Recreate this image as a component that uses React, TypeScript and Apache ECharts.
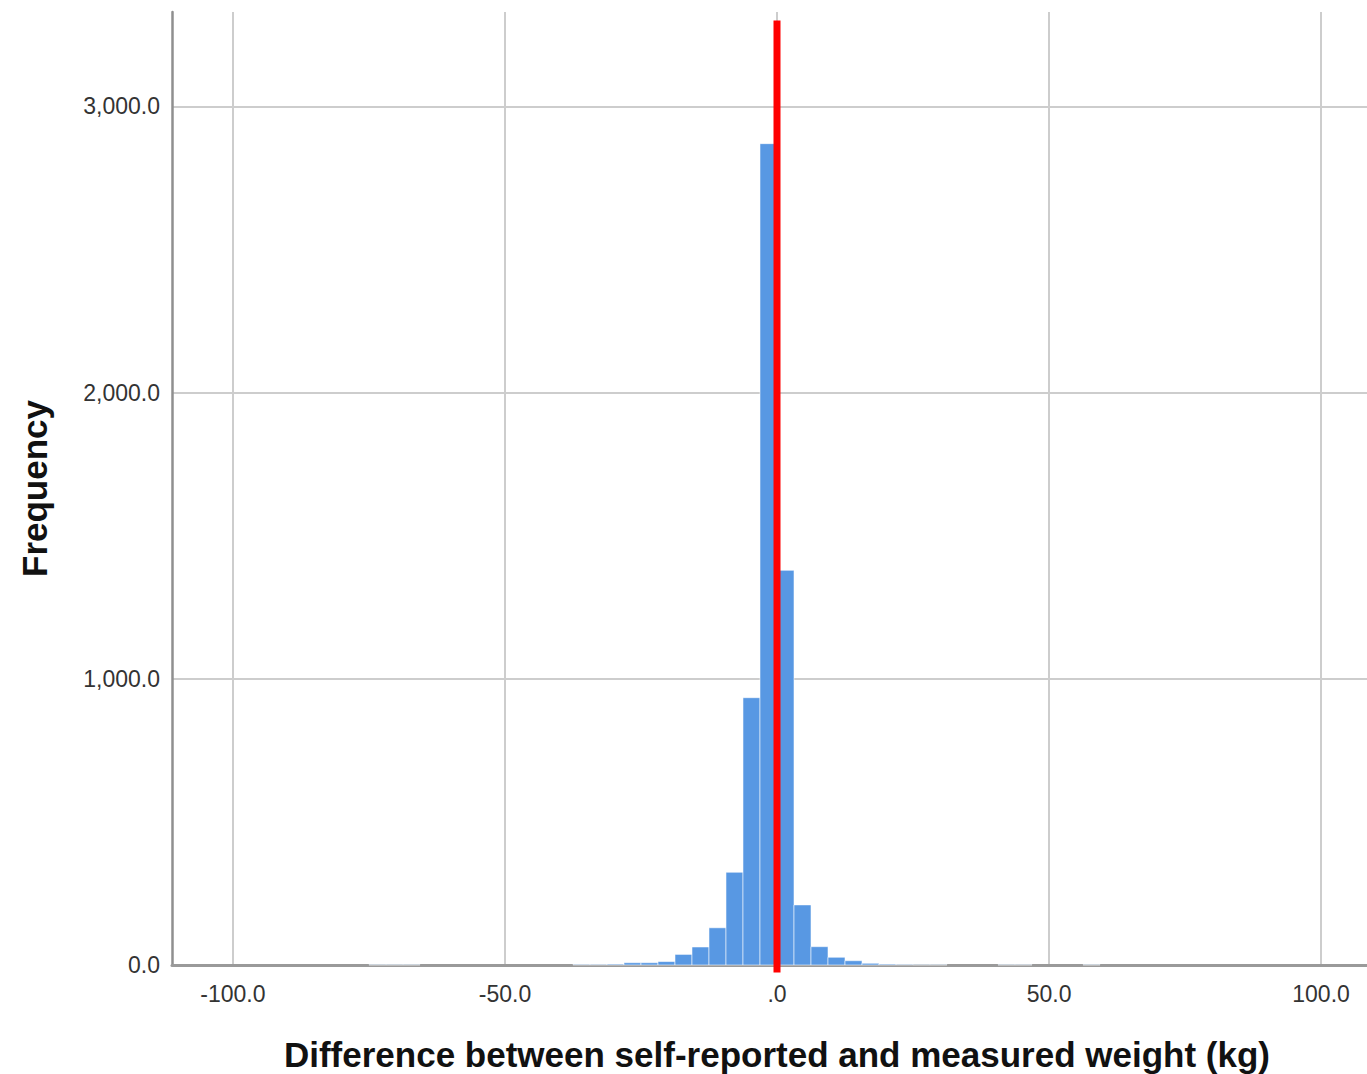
import React, { useEffect, useRef } from "react";
import * as echarts from "echarts";

// Histogram bins: lower edge of each bin (kg) and its frequency
const binWidth = 3.125;
const binLower = [
  -75, -71.875, -68.75, -37.5, -34.375, -31.25, -28.125, -25, -21.875, -18.75,
  -15.625, -12.5, -9.375, -6.25, -3.125, 0, 3.125, 6.25, 9.375, 12.5, 15.625,
  18.75, 21.875, 25, 28.125, 40.625, 43.75, 56.25,
];
const binCounts = [
  1, 1, 1, 2, 2, 3, 8, 8, 12, 37, 63, 130, 324, 934, 2870, 1379, 210, 64, 27,
  15, 6, 3, 2, 1, 1, 1, 1, 1,
];

// Axis extents
const xMin = -111.2;
const xMax = 111.2;
const yMin = 0;
const yMax = 3330;
const yInterval = 1000;

// Reference line (x = 0)
const refLineX = 0;
const refLineYs = [-26, 3300];

const xTitle = "Difference between self-reported and measured weight (kg)";
const yTitle = "Frequency";

const FONT = "'Liberation Sans', Arial, sans-serif";

export default function App() {
  const ref = useRef<HTMLDivElement>(null);

  useEffect(() => {
    if (!ref.current) return;
    const chart = echarts.init(ref.current, undefined, { renderer: "svg" });
    const histData = binLower.map((lo, i) => [lo, binCounts[i], lo + binWidth]);
    chart.setOption({
      animation: false,
      backgroundColor: "#ffffff",
      grid: {
        left: 172,
        right: 1,
        top: 12,
        bottom: 109,
        containLabel: false,
        outerBoundsMode: "none",
      },
      xAxis: {
        type: "value",
        min: xMin,
        max: xMax,
        splitNumber: 5,
        name: xTitle,
        nameLocation: "middle",
        nameGap: 72,
        nameTextStyle: { fontFamily: FONT, fontSize: 35, fontWeight: "bold", color: "#111" },
        axisLine: { show: true, onZero: false, lineStyle: { color: "#9a9a9a", width: 3 } },
        axisTick: { show: false },
        axisLabel: {
          show: true,
          showMinLabel: false,
          showMaxLabel: false,
          margin: 17,
          fontFamily: FONT,
          fontSize: 23,
          color: "#333",
          formatter: (v: number) => (v === 0 ? ".0" : v.toFixed(1)),
        },
        splitLine: {
          show: true,
          showMinLine: false,
          showMaxLine: false,
          lineStyle: { color: "#cdcdcd", width: 2 },
        },
      },
      yAxis: {
        type: "value",
        min: yMin,
        max: yMax,
        interval: yInterval,
        name: yTitle,
        nameLocation: "middle",
        nameGap: 120,
        nameRotate: 90,
        nameTextStyle: { fontFamily: FONT, fontSize: 35, fontWeight: "bold", color: "#111" },
        axisLine: { show: true, onZero: false, lineStyle: { color: "#8f8f8f", width: 2.5 } },
        axisTick: { show: false },
        axisLabel: {
          show: true,
          showMaxLabel: false,
          margin: 12,
          fontFamily: FONT,
          fontSize: 23,
          color: "#333",
          formatter: (v: number) =>
            v.toLocaleString("en-US", { minimumFractionDigits: 1, maximumFractionDigits: 1 }),
        },
        splitLine: {
          show: true,
          showMinLine: false,
          showMaxLine: false,
          lineStyle: { color: "#cdcdcd", width: 2 },
        },
      },
      series: [
        {
          type: "custom",
          data: histData,
          encode: { x: [0, 2], y: 1 },
          z: 2,
          renderItem: (params: any, api: any) => {
            const x0 = api.value(0);
            const y = api.value(1);
            const x1 = api.value(2);
            const p0 = api.coord([x0, y]);
            const p1 = api.coord([x1, 0]);
            return {
              type: "rect",
              shape: { x: p0[0], y: p0[1], width: p1[0] - p0[0], height: p1[1] - p0[1] },
              style: { fill: "#5898e3", stroke: "rgba(255,255,255,0.55)", lineWidth: 1 },
            };
          },
        },
        {
          type: "line",
          data: refLineYs.map((y) => [refLineX, y]),
          symbol: "none",
          clip: false,
          z: 5,
          lineStyle: { color: "#ff0000", width: 7 },
          silent: true,
        },
      ],
    });
    return () => chart.dispose();
  }, []);

  return (
    <div
      style={{
        position: "fixed",
        left: 0,
        top: 0,
        width: 1367,
        height: 1074,
        overflow: "hidden",
        background: "#fff",
      }}
    >
      <div ref={ref} style={{ width: 1383, height: 1074 }} />
    </div>
  );
}
